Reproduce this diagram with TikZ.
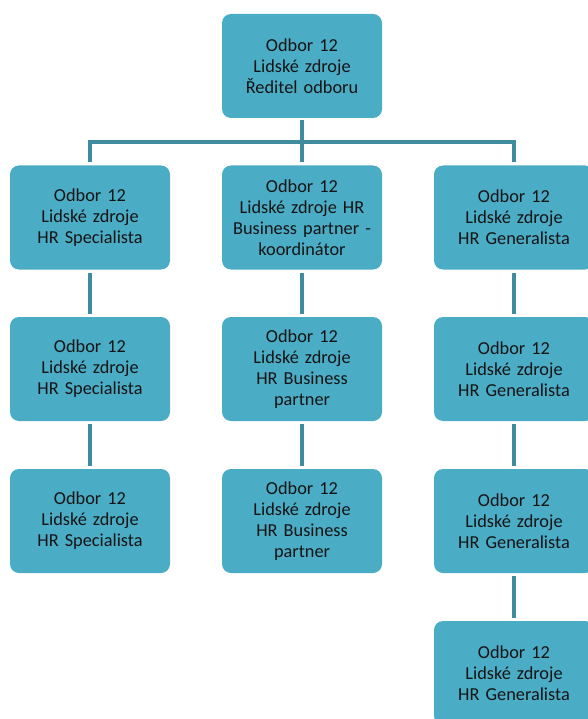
\documentclass[tikz,border=0pt]{standalone}
\usepackage{fontspec}
\setmainfont{Carlito}
\definecolor{boxfill}{HTML}{4BACC6}
\definecolor{linkcol}{HTML}{3E8C9E}
\definecolor{txt}{HTML}{141414}
\begin{document}
\begin{tikzpicture}[x=1pt,y=-1pt,
  orgbox/.style={draw=none,fill=boxfill,rounded corners=9pt,
    minimum width=160pt,minimum height=104pt,inner sep=2pt,
    text width=156pt,align=center,text=txt,
    font=\fontsize{18.3}{21}\selectfont},
  link/.style={draw=linkcol,line width=3.6pt}]
\useasboundingbox (0,0) rectangle (588,719);
\clip (0,0) rectangle (588,719);

% head of the department
\node[orgbox] (top) at (302,66) {Odbor 12\\Lidské zdroje\\Ředitel odboru};

% first level
\node[orgbox] (s1) at (90,217.5) {Odbor 12\\Lidské zdroje\\HR Specialista};
\node[orgbox] (b1) at (302,217.5) {Odbor 12\\Lidské zdroje HR\\Business partner -\\koordinátor};
\node[orgbox] (g1) at (514,217.5) {Odbor 12\\Lidské zdroje\\HR Generalista};

% second level
\node[orgbox] (s2) at (90,369) {Odbor 12\\Lidské zdroje\\HR Specialista};
\node[orgbox] (b2) at (302,369) {Odbor 12\\Lidské zdroje\\HR Business\\partner};
\node[orgbox] (g2) at (514,369) {Odbor 12\\Lidské zdroje\\HR Generalista};

% third level
\node[orgbox] (s3) at (90,521) {Odbor 12\\Lidské zdroje\\HR Specialista};
\node[orgbox] (b3) at (302,521) {Odbor 12\\Lidské zdroje\\HR Business\\partner};
\node[orgbox] (g3) at (514,521) {Odbor 12\\Lidské zdroje\\HR Generalista};

% fourth level
\node[orgbox] (g4) at (514,673) {Odbor 12\\Lidské zdroje\\HR Generalista};

% connectors from the head to the first level
\coordinate (bus) at (302,142);
\draw[link] ([yshift=-2pt]top.south) -- ([yshift=3pt]b1.north);
\draw[link] ([yshift=3pt]s1.north) |- (bus) -| ([yshift=3pt]g1.north);

% vertical chains
\foreach \a/\b in {s1/s2,s2/s3,b1/b2,b2/b3,g1/g2,g2/g3,g3/g4}
  \draw[link] ([yshift=-3pt]\a.south) -- ([yshift=3pt]\b.north);
\end{tikzpicture}
\end{document}
